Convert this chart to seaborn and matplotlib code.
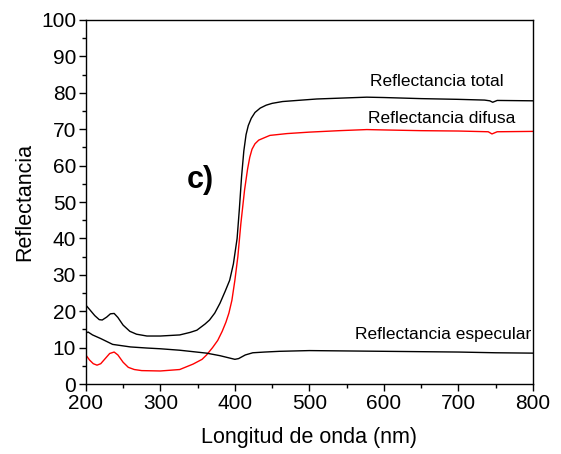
import numpy as np
import pandas as pd
import matplotlib
matplotlib.use("Agg")
import matplotlib.pyplot as plt
from matplotlib.ticker import MultipleLocator
import seaborn as sns

# Reflectancia total
wl_total = [200, 205, 212, 218, 222, 228, 233, 238, 243, 250, 259, 268, 282, 300, 326,
            340, 349, 360, 366, 373, 380, 387, 393, 398, 403, 406, 409, 412, 415, 418,
            422, 427, 434, 442, 450, 464, 490, 510, 550, 577, 600, 650, 700, 735, 742,
            746, 752, 800]
r_total = [21.7, 20.5, 18.8, 17.7, 17.6, 18.4, 19.3, 19.4, 18.3, 16.2, 14.5, 13.7, 13.2, 13.2, 13.5,
           14.2, 14.8, 16.5, 17.6, 19.5, 22.2, 25.5, 28.5, 33.0, 40.0, 48.0, 57.0, 64.0, 68.5, 71.0,
           73.0, 74.6, 75.8, 76.6, 77.1, 77.6, 78.0, 78.3, 78.6, 78.8, 78.7, 78.4, 78.2, 78.0, 77.8,
           77.4, 77.9, 77.8]

# Reflectancia difusa
wl_difusa = [200, 205, 210, 215, 220, 226, 232, 238, 243, 250, 257, 265, 275, 300, 326,
             344, 356, 362, 370, 377, 383, 388, 392, 396, 400, 404, 408, 413, 417, 420,
             423, 427, 432, 440, 447, 470, 500, 540, 577, 600, 650, 700, 740, 745, 752,
             800]
r_difusa = [8.0, 6.6, 5.6, 5.2, 5.6, 7.0, 8.4, 8.8, 8.0, 6.0, 4.6, 4.0, 3.7, 3.6, 4.0,
            5.5, 6.8, 8.0, 10.0, 12.0, 14.5, 17.0, 19.5, 23.0, 28.5, 35.0, 44.0, 53.3, 59.0, 62.3,
            64.5, 66.0, 67.0, 67.7, 68.3, 68.8, 69.2, 69.6, 69.9, 69.8, 69.6, 69.5, 69.3, 68.7, 69.3,
            69.4]

# Reflectancia especular
wl_especular = [200, 203, 209, 220, 236, 260, 282, 300, 326, 344, 362, 380, 392, 400, 405,
                414, 424, 440, 460, 500, 600, 700, 750, 800]
r_especular = [14.0, 14.3, 13.5, 12.5, 10.9, 10.2, 9.9, 9.7, 9.3, 8.9, 8.5, 7.8, 7.2, 6.8, 7.0,
               8.0, 8.6, 8.8, 9.0, 9.2, 9.0, 8.8, 8.6, 8.5]

labels = ["Reflectancia total", "Reflectancia difusa", "Reflectancia especular"]
panel_label = "c)"

sns.set_theme(style="ticks")
plt.rcParams['font.family'] = ['Liberation Sans', 'DejaVu Sans']
plt.rcParams['text.color'] = 'black'
plt.rcParams['axes.labelcolor'] = 'black'
plt.rcParams['xtick.color'] = 'black'
plt.rcParams['ytick.color'] = 'black'

fig = plt.figure(figsize=(5.61, 4.54), dpi=100)
ax = fig.add_axes([0.153, 0.154, 0.797, 0.802])

sns.lineplot(x=wl_total, y=r_total, ax=ax, color="black", lw=1.0)
sns.lineplot(x=wl_difusa, y=r_difusa, ax=ax, color="red", lw=1.0)
sns.lineplot(x=wl_especular, y=r_especular, ax=ax, color="black", lw=1.0)

ax.set_xlim(200, 800)
ax.set_ylim(0, 100)
ax.xaxis.set_major_locator(MultipleLocator(100))
ax.xaxis.set_minor_locator(MultipleLocator(50))
ax.yaxis.set_major_locator(MultipleLocator(10))
ax.yaxis.set_minor_locator(MultipleLocator(5))

for s in ax.spines.values():
    s.set_visible(True)
    s.set_linewidth(1.0)
    s.set_color("black")

ax.tick_params(which="both", direction="out", top=False, right=False, colors="black", width=1.0,
               labelcolor="black")
ax.tick_params(which="major", length=5, labelsize=15, pad=2)
ax.tick_params(which="minor", length=3)

ax.set_xlabel("Longitud de onda (nm)", fontsize=15.5, labelpad=10, color="black")
ax.set_ylabel("Reflectancia", fontsize=15.5, labelpad=4, color="black")

ax.text(671, 83, labels[0], fontsize=12.5, ha="center", va="center", color="black")
ax.text(678, 73, labels[1], fontsize=12.5, ha="center", va="center", color="black")
ax.text(679, 13.5, labels[2], fontsize=12.5, ha="center", va="center", color="black")
ax.text(353, 56, panel_label, fontsize=22, fontweight="bold", ha="center", va="center", color="black")

fig.savefig("out.png", dpi=100)
